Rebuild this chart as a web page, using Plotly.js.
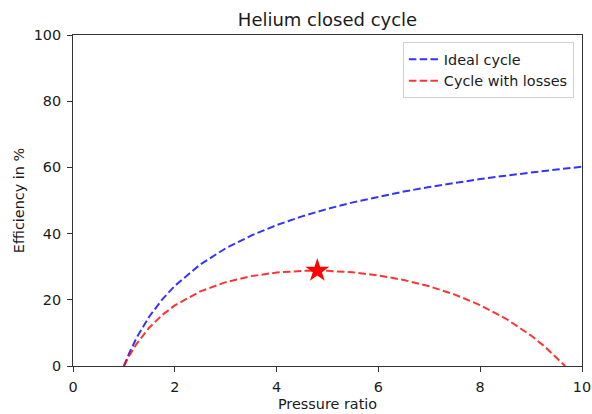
<!DOCTYPE html>
<html>
<head>
<meta charset="utf-8">
<script src="https://cdn.plot.ly/plotly-3.0.1.min.js"></script>
<style>html,body{margin:0;padding:0;background:#fff;}#chart{width:592px;height:414px;}</style>
</head>
<body>
<div id="chart"></div>
<script>
// Pressure ratio samples
const ratioIdeal = [1, 1.1, 1.25, 1.5, 1.75, 2, 2.5, 3, 3.5, 4, 4.5, 5, 5.5, 6, 6.5, 7, 7.5, 8, 8.5, 9, 9.5, 10];
const effIdeal   = [0, 3.74, 8.54, 14.97, 20.06, 24.21, 30.69, 35.56, 39.41, 42.57, 45.21, 47.47, 49.44, 51.16, 52.70, 54.08, 55.33, 56.47, 57.51, 58.48, 59.37, 60.19];

const ratioLoss = [1, 1.1, 1.25, 1.5, 1.75, 2, 2.5, 3, 3.5, 4, 4.5, 4.8, 5, 5.5, 6, 6.5, 7, 7.5, 8, 8.5, 9, 9.25, 9.5, 9.67];
const effLoss   = [0, 2.97, 6.72, 11.63, 15.37, 18.30, 22.54, 25.33, 27.15, 28.24, 28.74, 28.80, 28.75, 28.29, 27.37, 25.98, 24.08, 21.58, 18.39, 14.34, 9.19, 6.10, 2.60, 0];

const optRatio = [4.8];
const optEff = [28.8];

const font = {family: "DejaVu Sans", size: 14.4, color: "#1a1a1a"};

const traces = [
  {x: ratioIdeal, y: effIdeal, mode: "lines", name: "Ideal cycle",
   line: {color: "rgba(0,0,255,0.8)", width: 2, dash: "7.5px,3.3px"}},
  {x: ratioLoss, y: effLoss, mode: "lines", name: "Cycle with losses",
   line: {color: "rgba(255,0,0,0.8)", width: 2, dash: "7.5px,3.3px"}},
  {x: optRatio, y: optEff, mode: "markers", showlegend: false,
   marker: {symbol: "star", size: 18, color: "red", line: {width: 0}}}
];

const axisCommon = {
  showline: true, linecolor: "#333", linewidth: 1, mirror: true,
  ticks: "outside", ticklen: 5, tickcolor: "#333", tickwidth: 1,
  ticklabelstandoff: 3,
  showgrid: false, zeroline: false, tickfont: font
};

const layout = {
  width: 592, height: 414,
  margin: {l: 73, r: 10, t: 35, b: 48},
  paper_bgcolor: "#fff", plot_bgcolor: "#fff",
  font: font,
  title: {text: "Helium closed cycle", font: {family: "DejaVu Sans", size: 18, color: "#1a1a1a"}, x: 0.5, xanchor: "center", xref: "paper", yref: "container", y: 0.952, yanchor: "middle"},
  xaxis: Object.assign({}, axisCommon, {range: [0, 10], tickvals: [0, 2, 4, 6, 8, 10], title: {text: "Pressure ratio", font: font, standoff: 4}}),
  yaxis: Object.assign({}, axisCommon, {range: [0, 100], tickvals: [0, 20, 40, 60, 80, 100], title: {text: "Efficiency in %", font: font, standoff: 5}}),
  legend: {x: 0.984, xanchor: "right", y: 0.978, yanchor: "top", bordercolor: "#d0d0d0", borderwidth: 1, bgcolor: "rgba(255,255,255,0.8)", font: font, tracegroupgap: 0},
  showlegend: true
};

Plotly.newPlot("chart", traces, layout, {staticPlot: true, displayModeBar: false});
</script>
</body>
</html>
